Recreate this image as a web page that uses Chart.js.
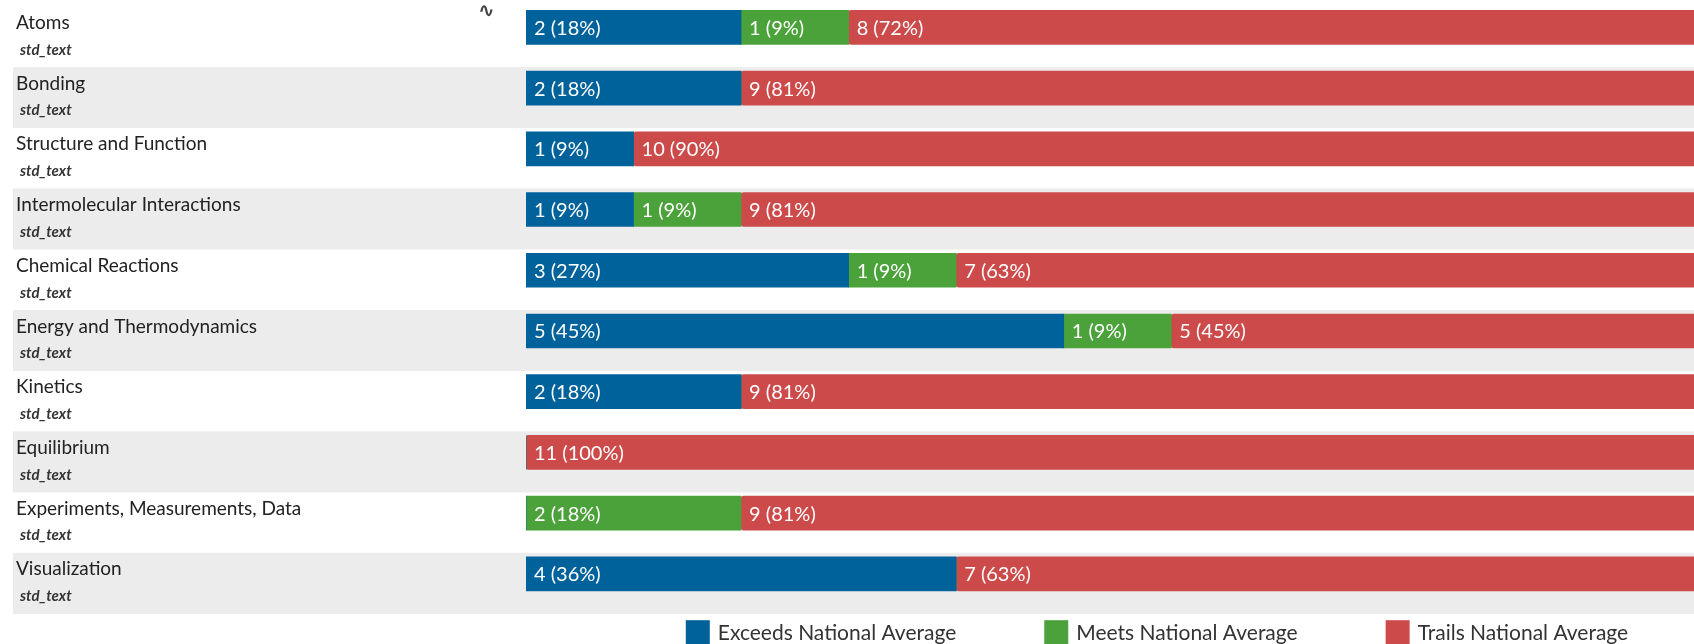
<!DOCTYPE html>
<html>
<head>
<meta charset="utf-8">
<script src="https://cdn.jsdelivr.net/npm/chart.js@4.4.1/dist/chart.umd.min.js"></script>
<style>
  html, body { margin:0; padding:0; background:#fff; overflow:hidden; width:1694px; height:644px; }
  #wrap { position:absolute; left:0; top:-3px; width:1709px; height:670px; }
</style>
</head>
<body>
<div id="wrap"><canvas id="chart"></canvas></div>
<script>
// données
const categories = ["Atoms", "Bonding", "Structure and Function", "Intermolecular Interactions",
  "Chemical Reactions", "Energy and Thermodynamics", "Kinetics", "Equilibrium",
  "Experiments, Measurements, Data", "Visualization"];
const subLabel = "std_text";
const exceeds = [2, 2, 1, 1, 3, 5, 2, 0, 0, 4];
const meets   = [1, 0, 0, 1, 1, 1, 0, 0, 2, 0];
const trails  = [8, 9, 10, 9, 7, 5, 9, 11, 9, 7];
const seriesNames = ["Exceeds National Average", "Meets National Average", "Trails National Average"];
const colors = ["#00629b", "#4ba23a", "#cd4a4b"];

const totals = categories.map((_, i) => exceeds[i] + meets[i] + trails[i]);

// bandes grises + libellés à gauche
const rowsPlugin = {
  id: 'rows',
  beforeDatasetsDraw(chart){
    const {ctx, chartArea} = chart;
    const y = chart.scales.y;
    ctx.save();
    categories.forEach((c, i) => {
      const cy = y.getPixelForValue(i);
      if (i % 2 === 1){
        ctx.fillStyle = '#ececec';
        ctx.fillRect(13, cy - 21, chart.width - 13, 61);
      }
      ctx.fillStyle = '#222';
      ctx.textBaseline = 'middle';
      ctx.font = '19px Lato';
      ctx.fillText(c, 16, cy - 4.5);
      ctx.fillStyle = '#333';
      ctx.font = 'italic bold 15px Lato';
      ctx.fillText(subLabel, 20, cy + 22.5);
    });
    // petite icône en haut
    ctx.fillStyle = '#444';
    ctx.font = 'bold 20px "DejaVu Sans"';
    ctx.fillText('\u223F', 478, chartArea.top + 15);
    ctx.restore();
  }
};

// étiquettes dans les barres : "n (xx%)"
const valuesPlugin = {
  id: 'values',
  afterDatasetsDraw(chart){
    const {ctx} = chart;
    ctx.save();
    ctx.fillStyle = '#fff';
    ctx.font = '20px Lato';
    ctx.textBaseline = 'middle';
    chart.data.datasets.forEach((ds, di) => {
      chart.getDatasetMeta(di).data.forEach((bar, i) => {
        const v = ds.data[i];
        if (!v) return;
        const pct = Math.floor(v / totals[i] * 100);
        ctx.fillText(`${v} (${pct}%)`, Math.min(bar.x, bar.base) + 8, bar.y + 1);
      });
    });
    ctx.restore();
  }
};

// légende en bas
const legendPlugin = {
  id: 'legendBottom',
  afterDraw(chart){
    const {ctx, chartArea} = chart;
    ctx.save();
    ctx.font = '21px Lato';
    const box = 24, gapText = 8, gap = 88;
    const widths = seriesNames.map(n => box + gapText + ctx.measureText(n).width);
    const total = widths.reduce((s, w) => s + w, 0) + gap * (widths.length - 1);
    let x = 1157 - total / 2;
    const top = chartArea.bottom + 16;
    seriesNames.forEach((n, i) => {
      ctx.fillStyle = colors[i];
      ctx.fillRect(x, top, box, box);
      ctx.fillStyle = '#333';
      ctx.textBaseline = 'middle';
      ctx.fillText(n, x + box + gapText, top + 13);
      x += widths[i] + gap;
    });
    ctx.restore();
  }
};

const mkSet = (label, data, color) => ({
  label, data, backgroundColor: color,
  borderWidth: 0, borderRadius: 3, borderSkipped: false,
  barThickness: 34
});

new Chart(document.getElementById('chart'), {
  type: 'bar',
  data: {
    labels: categories,
    datasets: [
      mkSet(seriesNames[0], exceeds, colors[0]),
      mkSet(seriesNames[1], meets, colors[1]),
      mkSet(seriesNames[2], trails, colors[2])
    ]
  },
  options: {
    indexAxis: 'y',
    responsive: true,
    maintainAspectRatio: false,
    animation: false,
    layout: { padding: { left: 526, top: 0, right: 0, bottom: 62.8 } },
    scales: {
      x: { stacked: true, min: 0, max: 11, display: false },
      y: { stacked: true, display: false }
    },
    plugins: { legend: { display: false }, tooltip: { enabled: false } }
  },
  plugins: [rowsPlugin, valuesPlugin, legendPlugin]
});
</script>
</body>
</html>
